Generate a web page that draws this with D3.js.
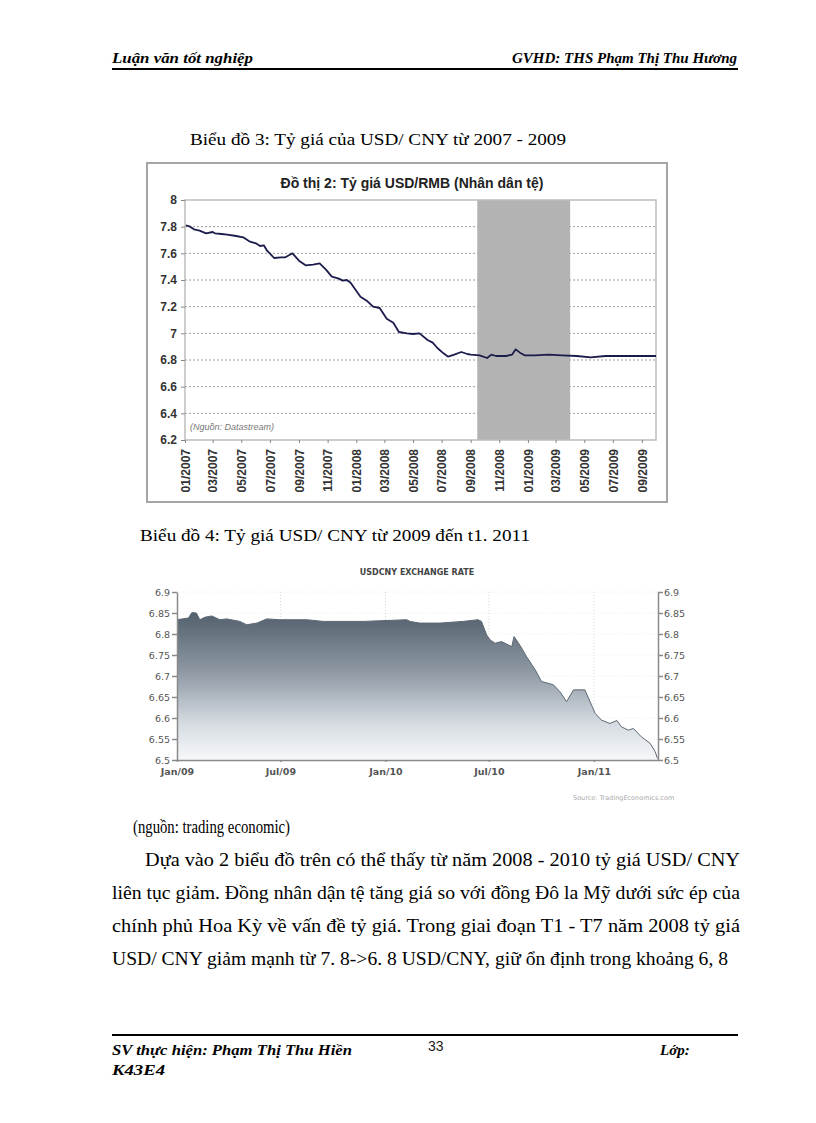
<!DOCTYPE html>
<html>
<head>
<meta charset="utf-8">
<script src="https://cdn.jsdelivr.net/npm/d3@7"></script>
<style>
  body { margin: 0; background: #fff; }
  svg { display: block; }
</style>
</head>
<body>
<svg id="page"></svg>
<script>
// --- Biểu đồ 3: USD/RMB 2007-2009 (Datastream) ---
const c1Dates = [
  "2007-01-03","2007-01-12","2007-01-20","2007-02-01","2007-02-15","2007-03-01","2007-03-06","2007-03-20",
  "2007-04-01","2007-04-20","2007-05-05","2007-05-18","2007-06-01","2007-06-10","2007-06-18","2007-06-25",
  "2007-07-10","2007-07-25","2007-08-03","2007-08-18","2007-09-01","2007-09-15","2007-10-01","2007-10-15",
  "2007-10-28","2007-11-10","2007-11-25","2007-12-03","2007-12-12","2007-12-20","2008-01-10","2008-01-25",
  "2008-02-06","2008-02-20","2008-03-06","2008-03-20","2008-04-01","2008-04-18","2008-05-01","2008-05-15",
  "2008-06-01","2008-06-12","2008-06-22","2008-07-05","2008-07-15","2008-07-28","2008-08-12","2008-08-25",
  "2008-09-01","2008-09-20","2008-10-06","2008-10-15","2008-10-25","2008-11-15","2008-11-28","2008-12-06",
  "2008-12-15","2008-12-25","2009-01-15","2009-02-15","2009-03-15","2009-04-15","2009-05-15","2009-06-15",
  "2009-07-15","2009-08-15","2009-09-15","2009-10-01"
];
const c1Values = [
  7.81, 7.80, 7.78, 7.77, 7.75, 7.76, 7.75, 7.745,
  7.74, 7.73, 7.72, 7.69, 7.675, 7.655, 7.66, 7.62,
  7.565, 7.57, 7.57, 7.60, 7.545, 7.51, 7.515, 7.525,
  7.48, 7.425, 7.41, 7.395, 7.40, 7.38, 7.275, 7.24,
  7.20, 7.19, 7.11, 7.08, 7.01, 7.00, 6.995, 7.00,
  6.95, 6.93, 6.89, 6.85, 6.825, 6.84, 6.86, 6.845,
  6.84, 6.835, 6.815, 6.84, 6.83, 6.83, 6.84, 6.88,
  6.855, 6.835, 6.835, 6.84, 6.835, 6.83, 6.82, 6.83,
  6.83, 6.83, 6.83, 6.83
];
const c1Band = ["2008-09-15", "2009-04-01"];
const c1YTicks = [6.2, 6.4, 6.6, 6.8, 7, 7.2, 7.4, 7.6, 7.8, 8];
const c1XTicks = ["2007-01-01","2007-03-01","2007-05-01","2007-07-01","2007-09-01","2007-11-01",
  "2008-01-01","2008-03-01","2008-05-01","2008-07-01","2008-09-01","2008-11-01",
  "2009-01-01","2009-03-01","2009-05-01","2009-07-01","2009-09-01"];

// --- Biểu đồ 4: USDCNY 2009 - 2011 (TradingEconomics) ---
const c2Dates = [
  "2009-01-01","2009-01-21","2009-01-27","2009-02-04","2009-02-10","2009-02-19","2009-03-03",
  "2009-03-17","2009-03-29","2009-04-21","2009-05-03","2009-05-21","2009-06-07","2009-06-30",
  "2009-08-16","2009-09-14","2009-11-23","2010-02-07","2010-02-13","2010-03-02","2010-04-06",
  "2010-05-17","2010-06-12","2010-06-18","2010-06-27","2010-07-03","2010-07-12","2010-07-23",
  "2010-08-04","2010-08-10","2010-08-14","2010-08-24","2010-09-05","2010-09-20","2010-10-01",
  "2010-10-22","2010-11-02","2010-11-14","2010-11-26","2010-12-16","2011-01-03","2011-01-14",
  "2011-01-29","2011-02-10","2011-02-18","2011-03-02","2011-03-11","2011-03-25","2011-04-09",
  "2011-04-18","2011-04-22"
];
const c2Values = [
  6.834, 6.838, 6.851, 6.850, 6.834, 6.840, 6.843,
  6.834, 6.836, 6.830, 6.822, 6.826, 6.836, 6.834,
  6.834, 6.830, 6.830, 6.834, 6.830, 6.826, 6.826,
  6.830, 6.834, 6.830, 6.798, 6.786, 6.778, 6.782,
  6.774, 6.770, 6.794, 6.774, 6.746, 6.715, 6.687,
  6.679, 6.663, 6.639, 6.667, 6.667, 6.611, 6.595,
  6.587, 6.594, 6.579, 6.571, 6.575, 6.555, 6.540,
  6.520, 6.504
];
const c2YTicks = [6.5, 6.55, 6.6, 6.65, 6.7, 6.75, 6.8, 6.85, 6.9];
const c2XTicks = ["2009-01-01","2009-07-01","2010-01-01","2010-07-01","2011-01-01"];

const parse = d3.timeParse("%Y-%m-%d");
const serif = "'Liberation Serif', 'Times New Roman', serif";
const sans = "'Liberation Sans', Arial, sans-serif";

const svg = d3.select("#page").attr("width", 816).attr("height", 1123);

// ---------- page text ----------
function txt(x, y, s, size, opts = {}) {
  const t = svg.append("text")
    .attr("x", x).attr("y", y)
    .attr("font-family", opts.family || serif)
    .attr("font-size", size)
    .attr("fill", opts.fill || "#000")
    .text(s);
  if (opts.bold) t.attr("font-weight", "bold");
  if (opts.italic) t.attr("font-style", "italic");
  if (opts.anchor) t.attr("text-anchor", opts.anchor);
  if (opts.len) t.attr("textLength", opts.len).attr("lengthAdjust", "spacingAndGlyphs");
  return t;
}

txt(112, 63, "Luận văn tốt nghiệp", 15, { bold: true, italic: true, len: 141 });
txt(737, 63, "GVHD: THS Phạm Thị Thu Hương", 15, { bold: true, italic: true, anchor: "end" });
svg.append("line").attr("x1", 112).attr("x2", 738).attr("y1", 69).attr("y2", 69)
  .attr("stroke", "#000").attr("stroke-width", 2);

txt(190, 145, "Biểu  đồ 3: Tỷ giá  của USD/ CNY từ 2007  - 2009", 17, { len: 376 });
txt(140, 541, "Biểu  đồ 4: Tỷ giá  USD/ CNY từ 2009  đến t1. 2011", 17, { len: 390 });

txt(133, 833, "(nguồn: trading  economic)", 18, { len: 157 });
const paraLines = [
  { x: 145, y: 866, s: "Dựa vào 2 biểu  đồ trên có thể thấy từ năm 2008  - 2010  tỷ giá USD/ CNY", w: 595 },
  { x: 112, y: 899, s: "liên  tục giảm. Đồng nhân dận tệ tăng giá  so với  đồng Đô la  Mỹ dưới sức ép của", w: 628 },
  { x: 112, y: 932, s: "chính phủ Hoa  Kỳ về vấn  đề tỷ giá.  Trong giai  đoạn T1  - T7 năm 2008  tỷ giá", w: 628 },
  { x: 112, y: 965, s: "USD/ CNY giảm mạnh từ 7. 8->6. 8 USD/CNY, giữ  ổn định trong khoảng 6, 8", w: 616 }
];
paraLines.forEach(l => txt(l.x, l.y, l.s, 18, { len: l.w }));

svg.append("line").attr("x1", 112).attr("x2", 738).attr("y1", 1035).attr("y2", 1035)
  .attr("stroke", "#000").attr("stroke-width", 2);
txt(112, 1055, "SV thực hiện: Phạm Thị Thu Hiền", 15, { bold: true, italic: true, len: 240 });
txt(428, 1051, "33", 14, { family: sans, fill: "#222" });
txt(660, 1055, "Lớp:", 15, { bold: true, italic: true });
txt(112, 1075, "K43E4", 15, { bold: true, italic: true, len: 53 });

// ---------- chart 1 ----------
const c1 = { left: 185, right: 656, top: 200, bottom: 440 };
const x1 = d3.scaleTime()
  .domain([parse("2007-01-01"), parse("2009-10-01")])
  .range([c1.left, c1.right]);
const y1 = d3.scaleLinear().domain([6.2, 8]).range([c1.bottom, c1.top]);

const g1 = svg.append("g");
g1.append("rect").attr("x", 147).attr("y", 163).attr("width", 520).attr("height", 339)
  .attr("fill", "#fff").attr("stroke", "#a5a5a5").attr("stroke-width", 2);

g1.append("text").attr("x", 412).attr("y", 188).attr("text-anchor", "middle")
  .attr("font-family", sans).attr("font-weight", "bold").attr("font-size", 14)
  .attr("fill", "#222").text("Đồ thị 2: Tỷ giá USD/RMB (Nhân dân tệ)");

// gridlines
g1.append("g").selectAll("line")
  .data(c1YTicks.filter(v => v > 6.2 && v < 8))
  .join("line")
  .attr("x1", c1.left).attr("x2", c1.right)
  .attr("y1", d => y1(d)).attr("y2", d => y1(d))
  .attr("stroke", "#999").attr("stroke-width", 1).attr("stroke-dasharray", "2,2");

// shaded crisis band
g1.append("rect")
  .attr("x", x1(parse(c1Band[0]))).attr("y", c1.top)
  .attr("width", x1(parse(c1Band[1])) - x1(parse(c1Band[0])))
  .attr("height", c1.bottom - c1.top)
  .attr("fill", "#b3b3b3");

g1.append("rect").attr("x", c1.left).attr("y", c1.top)
  .attr("width", c1.right - c1.left).attr("height", c1.bottom - c1.top)
  .attr("fill", "none").attr("stroke", "#bdbdbd").attr("stroke-width", 1.5);

g1.append("text").attr("x", 190).attr("y", 430)
  .attr("font-family", sans).attr("font-style", "italic").attr("font-size", 9)
  .attr("fill", "#777").text("(Nguồn: Datastream)");

const line1 = d3.line().x((d, i) => x1(parse(c1Dates[i]))).y(d => y1(d));
g1.append("path").datum(c1Values).attr("d", line1)
  .attr("fill", "none").attr("stroke", "#1c1c4c").attr("stroke-width", 1.8)
  .attr("stroke-linejoin", "round");

// axes
const ax1y = g1.append("g").attr("transform", `translate(${c1.left},0)`)
  .call(d3.axisLeft(y1).tickValues(c1YTicks).tickFormat(d3.format("~g")).tickSize(4).tickPadding(4));
ax1y.select(".domain").remove();
ax1y.selectAll("line").attr("stroke", "#888");
ax1y.selectAll("text").attr("font-family", sans).attr("font-size", 12)
  .attr("font-weight", "bold").attr("fill", "#333");

const ax1x = g1.append("g").attr("transform", `translate(0,${c1.bottom})`)
  .call(d3.axisBottom(x1).tickValues(c1XTicks.map(parse))
    .tickFormat(d3.timeFormat("%m/%Y")).tickSize(3));
ax1x.select(".domain").remove();
ax1x.selectAll("line").attr("stroke", "#888");
ax1x.selectAll("text")
  .attr("transform", "rotate(-90)")
  .attr("text-anchor", "end")
  .attr("x", -9).attr("y", 0).attr("dy", "0.35em")
  .attr("font-family", sans).attr("font-size", 12)
  .attr("font-weight", "bold").attr("fill", "#333");

// ---------- chart 2 ----------
const c2 = { left: 177, right: 658, top: 592, bottom: 760 };
const x2 = d3.scaleTime()
  .domain([parse("2009-01-01"), parse("2011-04-23")])
  .range([c2.left, c2.right]);
const y2 = d3.scaleLinear().domain([6.5, 6.9]).range([c2.bottom, c2.top]);

const g2 = svg.append("g");
const defs = svg.append("defs");
const grad = defs.append("linearGradient").attr("id", "fade")
  .attr("gradientUnits", "userSpaceOnUse")
  .attr("x1", 0).attr("x2", 0).attr("y1", y2(6.85)).attr("y2", c2.bottom);
grad.append("stop").attr("offset", "0%").attr("stop-color", "#53606d");
grad.append("stop").attr("offset", "40%").attr("stop-color", "#8e99a4");
grad.append("stop").attr("offset", "75%").attr("stop-color", "#d5dbe1");
grad.append("stop").attr("offset", "100%").attr("stop-color", "#f7f9fb");

g2.append("text").attr("x", 417).attr("y", 575).attr("text-anchor", "middle")
  .attr("font-family", "'DejaVu Sans', Verdana, sans-serif").attr("font-weight", "bold")
  .attr("font-size", 8).attr("fill", "#444").text("USDCNY EXCHANGE RATE");

// faint gridlines
g2.append("g").selectAll("line")
  .data(c2XTicks.slice(1).map(parse))
  .join("line")
  .attr("x1", d => x2(d)).attr("x2", d => x2(d))
  .attr("y1", c2.top).attr("y2", c2.bottom)
  .attr("stroke", "#d6d6d6").attr("stroke-dasharray", "1,2");
g2.append("g").selectAll("line")
  .data(c2YTicks.slice(1))
  .join("line")
  .attr("x1", c2.left).attr("x2", c2.right)
  .attr("y1", d => y2(d)).attr("y2", d => y2(d))
  .attr("stroke", "#ececec").attr("stroke-dasharray", "1,2");

const area2 = d3.area()
  .x((d, i) => x2(parse(c2Dates[i])))
  .y0(c2.bottom).y1(d => y2(d));
g2.append("path").datum(c2Values).attr("d", area2).attr("fill", "url(#fade)");
const line2 = d3.line().x((d, i) => x2(parse(c2Dates[i]))).y(d => y2(d));
g2.append("path").datum(c2Values).attr("d", line2)
  .attr("fill", "none").attr("stroke", "#5d6873").attr("stroke-width", 1);

const tickFont = "'DejaVu Sans', Verdana, sans-serif";
function styleAxis(a) {
  a.select(".domain").attr("stroke", "#8a8a8a").attr("stroke-width", 1.5);
  a.selectAll("line").attr("stroke", "#8a8a8a").attr("stroke-width", 1.5);
  a.selectAll("text").attr("font-family", tickFont).attr("font-size", 9.5).attr("fill", "#555");
}
const ax2l = g2.append("g").attr("transform", `translate(${c2.left},0)`)
  .call(d3.axisLeft(y2).tickValues(c2YTicks).tickFormat(d3.format("~g")).tickSize(5).tickSizeOuter(0).tickPadding(2));
styleAxis(ax2l);
const ax2r = g2.append("g").attr("transform", `translate(${c2.right},0)`)
  .call(d3.axisRight(y2).tickValues(c2YTicks).tickFormat(d3.format("~g")).tickSize(5).tickSizeOuter(0).tickPadding(1));
styleAxis(ax2r);
const ax2b = g2.append("g").attr("transform", `translate(0,${c2.bottom})`)
  .call(d3.axisBottom(x2).tickValues(c2XTicks.map(parse))
    .tickFormat(d3.timeFormat("%b/%y")).tickSize(2).tickSizeOuter(0).tickPadding(6));
styleAxis(ax2b);
ax2b.selectAll("text").attr("font-weight", "bold");

g2.append("text").attr("x", 573).attr("y", 800)
  .attr("font-family", tickFont).attr("font-size", 6.5).attr("fill", "#aaa")
  .text("Source: TradingEconomics.com");
</script>
</body>
</html>
